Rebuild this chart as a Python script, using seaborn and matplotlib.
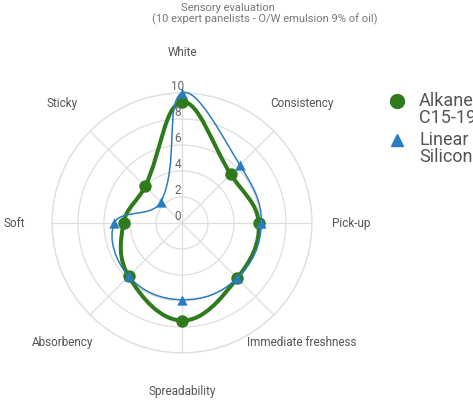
import numpy as np
import matplotlib
import matplotlib.pyplot as plt
import seaborn as sns
from matplotlib.path import Path
from matplotlib.patches import PathPatch
from matplotlib.transforms import Affine2D
from matplotlib.lines import Line2D

matplotlib.use("Agg")

# Sensory attributes, clockwise from the top
attributes = [
    "White",
    "Consistency",
    "Pick-up",
    "Immediate freshness",
    "Spreadability",
    "Absorbency",
    "Soft",
    "Sticky",
]
alkanes = [9.3, 5.3, 5.9, 6.0, 7.5, 5.8, 4.5, 4.0]
silicone = [10.0, 6.3, 6.1, 6.0, 5.9, 5.8, 5.2, 2.3]
tick_values = [0, 2, 4, 6, 8, 10]
series_names = [["Alkanes", "C15-19"], ["Linear", "Silicone"]]
title_lines = ["Sensory evaluation", "(10 expert panelists - O/W emulsion 9% of oil)"]

GREEN = "#2f7a1c"
BLUE = "#2a7cc0"
GRID = "#dedede"

sns.set_theme(style="white")
plt.rcParams["font.family"] = ["Roboto", "DejaVu Sans"]


def spline_path(values, tension=0.4):
    # closed curve through the points, like a radar chart with line tension
    ang = np.arange(len(values)) * 2 * np.pi / len(values)
    v = np.asarray(values, dtype=float)
    pts = np.column_stack([np.sin(ang) * v, np.cos(ang) * v])
    n = len(pts)
    cps = []
    for i in range(n):
        p0, p1, p2 = pts[i - 1], pts[i], pts[(i + 1) % n]
        d01 = np.hypot(*(p1 - p0))
        d12 = np.hypot(*(p2 - p1))
        s01 = d01 / (d01 + d12)
        s12 = d12 / (d01 + d12)
        cps.append((p1 - tension * s01 * (p2 - p0), p1 + tension * s12 * (p2 - p0)))
    verts = [pts[0]]
    codes = [Path.MOVETO]
    for i in range(n):
        j = (i + 1) % n
        verts += [cps[i][1], cps[j][0], pts[j]]
        codes += [Path.CURVE4] * 3
    return Path(verts, codes)


fig = plt.figure(figsize=(4.73, 4.04), dpi=100)
cx, cy, rad = 182, 223, 130
ax = fig.add_axes(
    [(cx - rad) / 473, (404 - cy - rad) / 404, 2 * rad / 473, 2 * rad / 404],
    projection="polar",
)
ax.set_theta_zero_location("N")
ax.set_theta_direction(-1)
ax.set_ylim(0, 10)
theta = np.arange(len(attributes)) * 2 * np.pi / len(attributes)
ax.set_xticks(theta)
ax.set_xticklabels([])
ax.set_yticks(tick_values[1:])
ax.set_yticklabels([])
ax.grid(color=GRID, lw=0.9)
ax.spines["polar"].set_color(GRID)
ax.spines["polar"].set_linewidth(0.9)
ax.set_facecolor("white")

cart = Affine2D().scale(0.05).translate(0.5, 0.5) + ax.transAxes
ax.add_patch(PathPatch(spline_path(alkanes), fill=False, ec=GREEN, lw=2.9,
                       transform=cart, zorder=3, clip_on=False))
sns.scatterplot(x=theta, y=alkanes, ax=ax, color=GREEN, marker="o", s=80,
                edgecolor=GREEN, linewidth=0, zorder=4, clip_on=False)
ax.add_patch(PathPatch(spline_path(silicone), fill=False, ec=BLUE, lw=1.1,
                       transform=cart, zorder=5, clip_on=False))
sns.scatterplot(x=theta, y=silicone, ax=ax, color=BLUE, marker="^", s=55,
                edgecolor=BLUE, linewidth=0, zorder=6, clip_on=False)
ax.set_xlabel("")
ax.set_ylabel("")

# radial tick labels
for t in tick_values:
    ax.annotate(str(t), xy=(0, t), xytext=(-3.2, 5), textcoords="offset points",
                ha="center", va="center", fontsize=8.5, color="#666666", zorder=7)

# attribute labels
label_pos = [
    (13.1, "center"), (13.0, "center"), (11.55, "left"), (13.0, "center"),
    (13.0, "center"), (13.0, "center"), (12.1, "right"), (13.0, "center"),
]
for th, name, (r, ha) in zip(theta, attributes, label_pos):
    ax.text(th, r, name, ha=ha, va="center", fontsize=8.5, color="#555555")

# title
fig.text(228 / 473, 1 - 8 / 404, title_lines[0], ha="center", va="center",
         fontsize=8, color="#777777")
fig.text(265 / 473, 1 - 19 / 404, title_lines[1], ha="center", va="center",
         fontsize=8, color="#777777")

# legend, cut by the right edge as in the screenshot
fig.add_artist(Line2D([397 / 473], [1 - 101 / 404], marker="o", ms=10, color=GREEN,
                      ls="none", transform=fig.transFigure))
fig.add_artist(Line2D([397 / 473], [1 - 140 / 404], marker="^", ms=8, color=BLUE,
                      ls="none", transform=fig.transFigure))
for y0, lines in zip([101, 140], series_names):
    for k, line in enumerate(lines):
        fig.text(419 / 473, 1 - (y0 + 17 * k) / 404, line, ha="left", va="center",
                 fontsize=13, color="#555555")

fig.savefig("out.png", dpi=100)
